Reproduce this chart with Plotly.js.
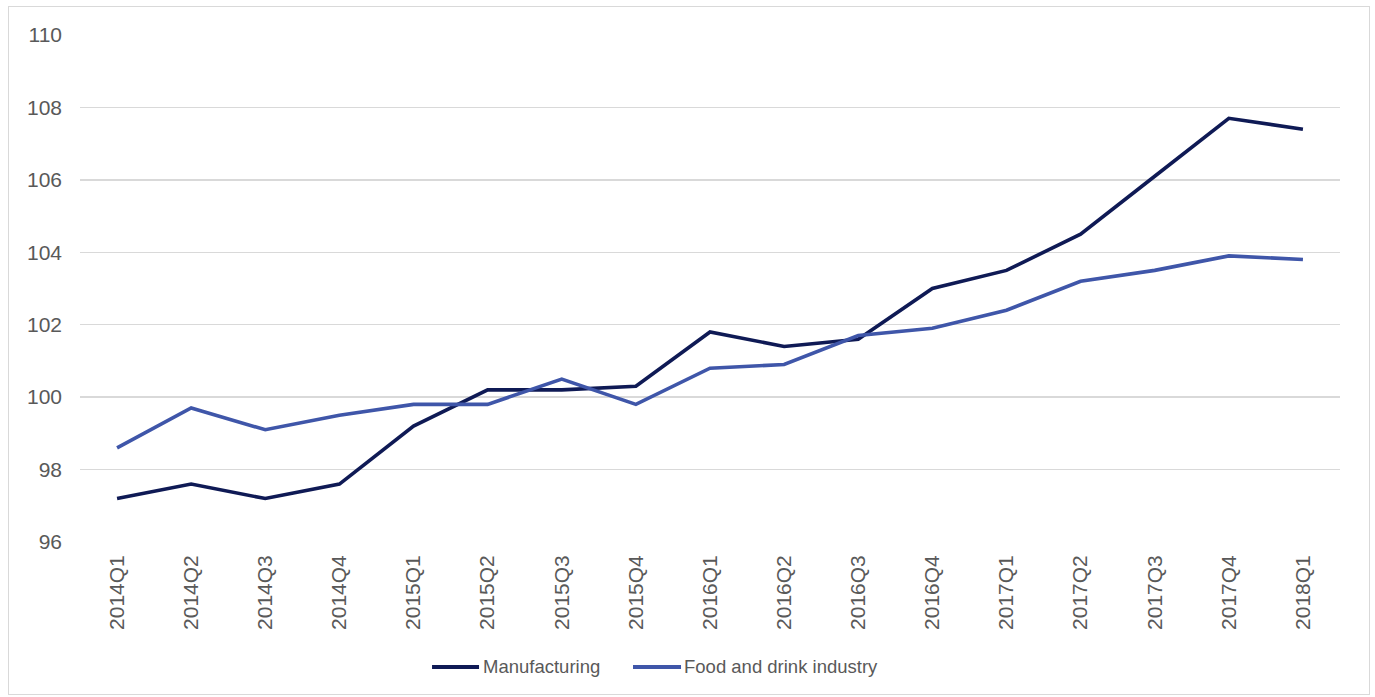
<!DOCTYPE html>
<html>
<head>
<meta charset="utf-8">
<script src="https://cdn.plot.ly/plotly-3.0.1.min.js"></script>
<style>
  html, body { margin: 0; padding: 0; background: #fff; }
  #wrap { position: relative; width: 1375px; height: 697px; }
  #chart { width: 1375px; height: 697px; }
  #frame { position: absolute; left: 8px; top: 6px; width: 1360px; height: 687px; border: 1px solid #d9d9d9; pointer-events: none; }
</style>
</head>
<body>
<div id="wrap">
  <div id="chart"></div>
  <div id="frame"></div>
</div>
<script>
const categories = ["2014Q1","2014Q2","2014Q3","2014Q4","2015Q1","2015Q2","2015Q3","2015Q4","2016Q1","2016Q2","2016Q3","2016Q4","2017Q1","2017Q2","2017Q3","2017Q4","2018Q1"];
const manufacturing = [97.2, 97.6, 97.2, 97.6, 99.2, 100.2, 100.2, 100.3, 101.8, 101.4, 101.6, 103.0, 103.5, 104.5, 106.1, 107.7, 107.4];
const foodDrink = [98.6, 99.7, 99.1, 99.5, 99.8, 99.8, 100.5, 99.8, 100.8, 100.9, 101.7, 101.9, 102.4, 103.2, 103.5, 103.9, 103.8];
const yTicks = [96, 98, 100, 102, 104, 106, 108, 110];
const seriesNames = ["Manufacturing", "Food and drink industry"];
const seriesColors = ["#0f1a55", "#3f56a9"];

const traces = [
  { x: categories, y: manufacturing, name: seriesNames[0], type: "scatter", mode: "lines",
    line: { color: seriesColors[0], width: 3.6 }, showlegend: false },
  { x: categories, y: foodDrink, name: seriesNames[1], type: "scatter", mode: "lines",
    line: { color: seriesColors[1], width: 3.6 }, showlegend: false }
];

// custom legend (line samples + labels) in paper coordinates
const legendY = -0.2465;
const legendItems = [
  { x0: 0.2794, x1: 0.3167, tx: 0.3182 },
  { x0: 0.4389, x1: 0.4770, tx: 0.4778 }
];
const shapes = legendItems.map((it, i) => ({
  type: "line", xref: "paper", yref: "paper", x0: it.x0, x1: it.x1, y0: legendY, y1: legendY,
  line: { color: seriesColors[i], width: 4 }
}));
const annotations = legendItems.map((it, i) => ({
  xref: "paper", yref: "paper", x: it.tx, y: legendY, xanchor: "left", yanchor: "middle",
  text: seriesNames[i], showarrow: false, font: { size: 18.5, color: "#595959" }
}));

const layout = {
  width: 1375, height: 697,
  margin: { l: 80, r: 35, t: 35, b: 155 },
  paper_bgcolor: "#ffffff", plot_bgcolor: "#ffffff",
  font: { family: "Liberation Sans, Arial, sans-serif", size: 21, color: "#595959" },
  showlegend: false,
  shapes: shapes,
  annotations: annotations,
  xaxis: { type: "category", range: [-0.5, categories.length - 0.5], tickvals: categories, ticktext: categories, tickangle: -90,
           showgrid: false, zeroline: false, showline: false, ticks: "",
           ticklabelstandoff: 8, tickfont: { size: 21, color: "#595959" } },
  yaxis: { range: [96, 110], tickvals: yTicks, ticktext: yTicks.map(String),
           showgrid: true, gridcolor: "#d9d9d9", gridwidth: 1.3, zeroline: false, showline: false,
           ticks: "", ticklabelstandoff: 17, tickfont: { size: 21, color: "#595959" } }
};

Plotly.newPlot("chart", traces, layout, { displayModeBar: false, staticPlot: true });
</script>
</body>
</html>
